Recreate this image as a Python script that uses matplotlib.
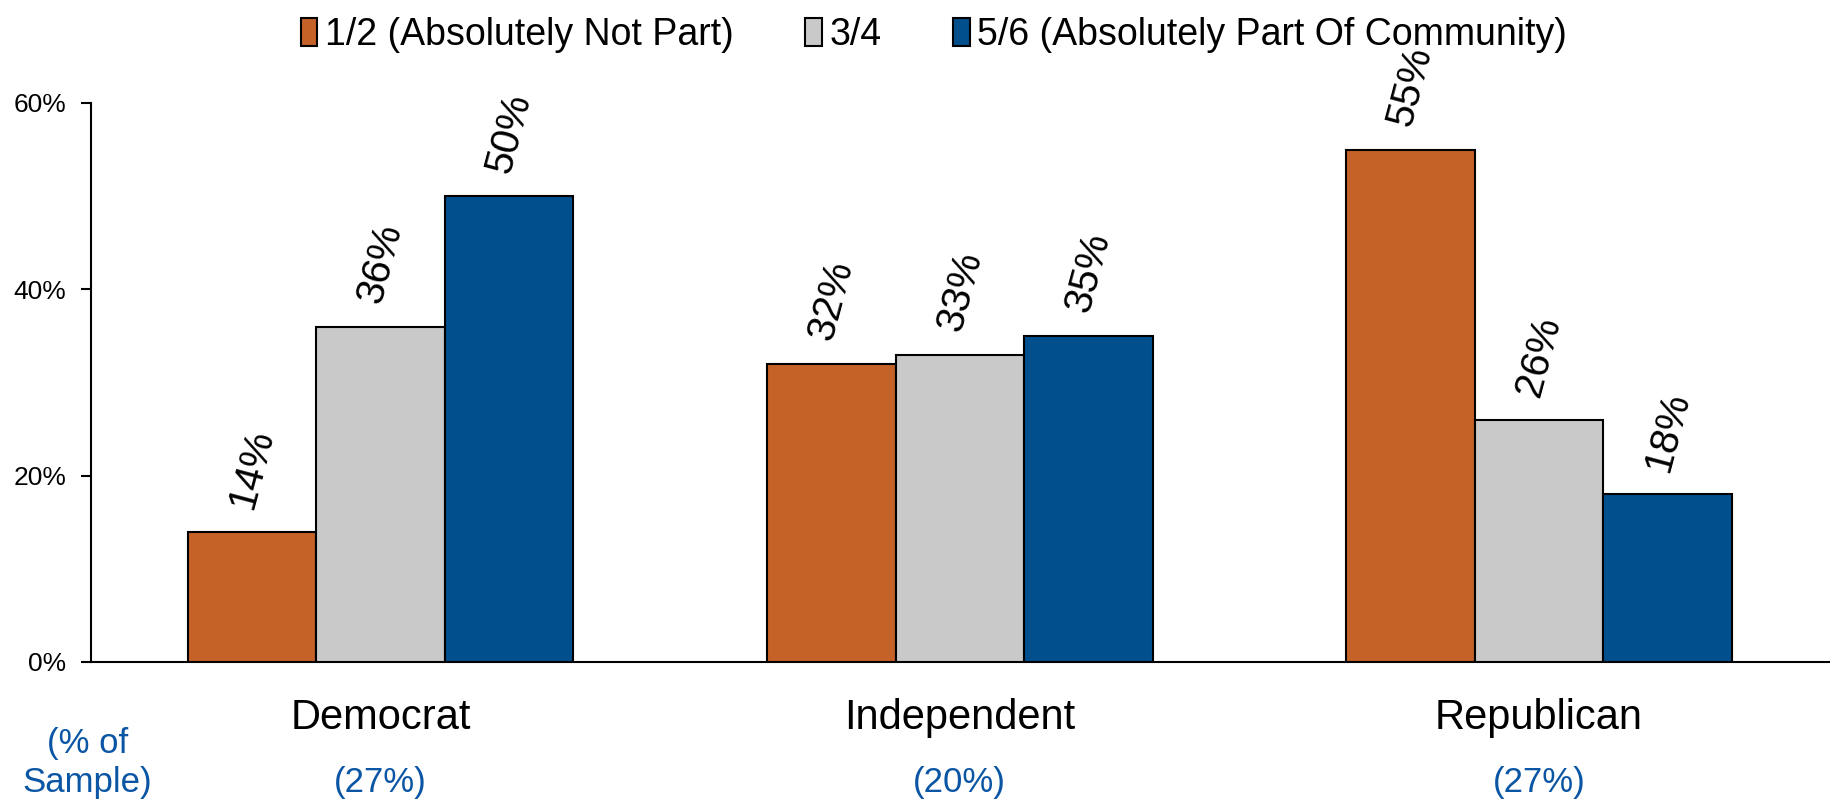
import matplotlib
matplotlib.use("Agg")
import matplotlib.pyplot as plt
import numpy as np
from matplotlib.patches import Patch

plt.rcParams['font.family'] = ['Liberation Sans', 'DejaVu Sans']

categories = ["Democrat", "Independent", "Republican"]
sample_share = ["(27%)", "(20%)", "(27%)"]
series_names = ["1/2 (Absolutely Not Part)", "3/4", "5/6 (Absolutely Part Of Community)"]
not_part = [14, 32, 55]
middle = [36, 33, 26]
part = [50, 35, 18]
yticks = [0, 20, 40, 60]
ytick_labels = ["0%", "20%", "40%", "60%"]

colors = ["#C46227", "#C9C9C9", "#024F8E"]
blue_text = "#0B56A4"

fig = plt.figure(figsize=(18.31, 8.02), dpi=100)
ax = fig.add_axes([0.0497, 0.1746, 0.9490, 0.6970])

x = np.arange(len(categories))
w = 0.222
series = [not_part, middle, part]
for i, (vals, c) in enumerate(zip(series, colors)):
    pos = x + (i - 1) * w
    bars = ax.bar(pos, vals, width=w, color=c, edgecolor="black", linewidth=1.5, zorder=3)
    for b, v in zip(bars, vals):
        ax.annotate(f"{v}%", (b.get_x() + b.get_width() / 2, v),
                    xytext=(0, 14), textcoords="offset points",
                    ha="center", va="bottom", rotation=75, fontsize=29)

ax.set_xlim(-0.5, 2.5)
ax.set_ylim(0, 60)
ax.set_yticks(yticks)
ax.set_yticklabels(ytick_labels, fontsize=19)
ax.set_xticks([])
for s in ["top", "right"]:
    ax.spines[s].set_visible(False)
ax.spines["left"].set_linewidth(1.5)
ax.spines["bottom"].set_linewidth(1.5)
ax.tick_params(axis="y", direction="out", length=7, width=1.5, pad=11)

trans = ax.get_xaxis_transform()
for xi, name, share in zip(x, categories, sample_share):
    ax.text(xi, -0.1007, name, transform=trans, ha="center", va="center", fontsize=30)
    ax.text(xi, -0.215, share, transform=trans, ha="center", va="center", fontsize=25, color=blue_text)

fig.text(0.0478, 0.073, "(% of", ha="center", va="center", fontsize=25, color=blue_text)
fig.text(0.0478, 0.0245, "Sample)", ha="center", va="center", fontsize=25, color=blue_text)

handles = [Patch(facecolor=c, edgecolor="black", linewidth=1.5) for c in colors]
fig.legend(handles, series_names, loc="center", bbox_to_anchor=(0.51, 0.956), ncol=3,
           frameon=False, fontsize=27, handlelength=0.45, handleheight=0.75,
           handletextpad=0.2, columnspacing=1.9)

fig.savefig("out.png", dpi=100)
